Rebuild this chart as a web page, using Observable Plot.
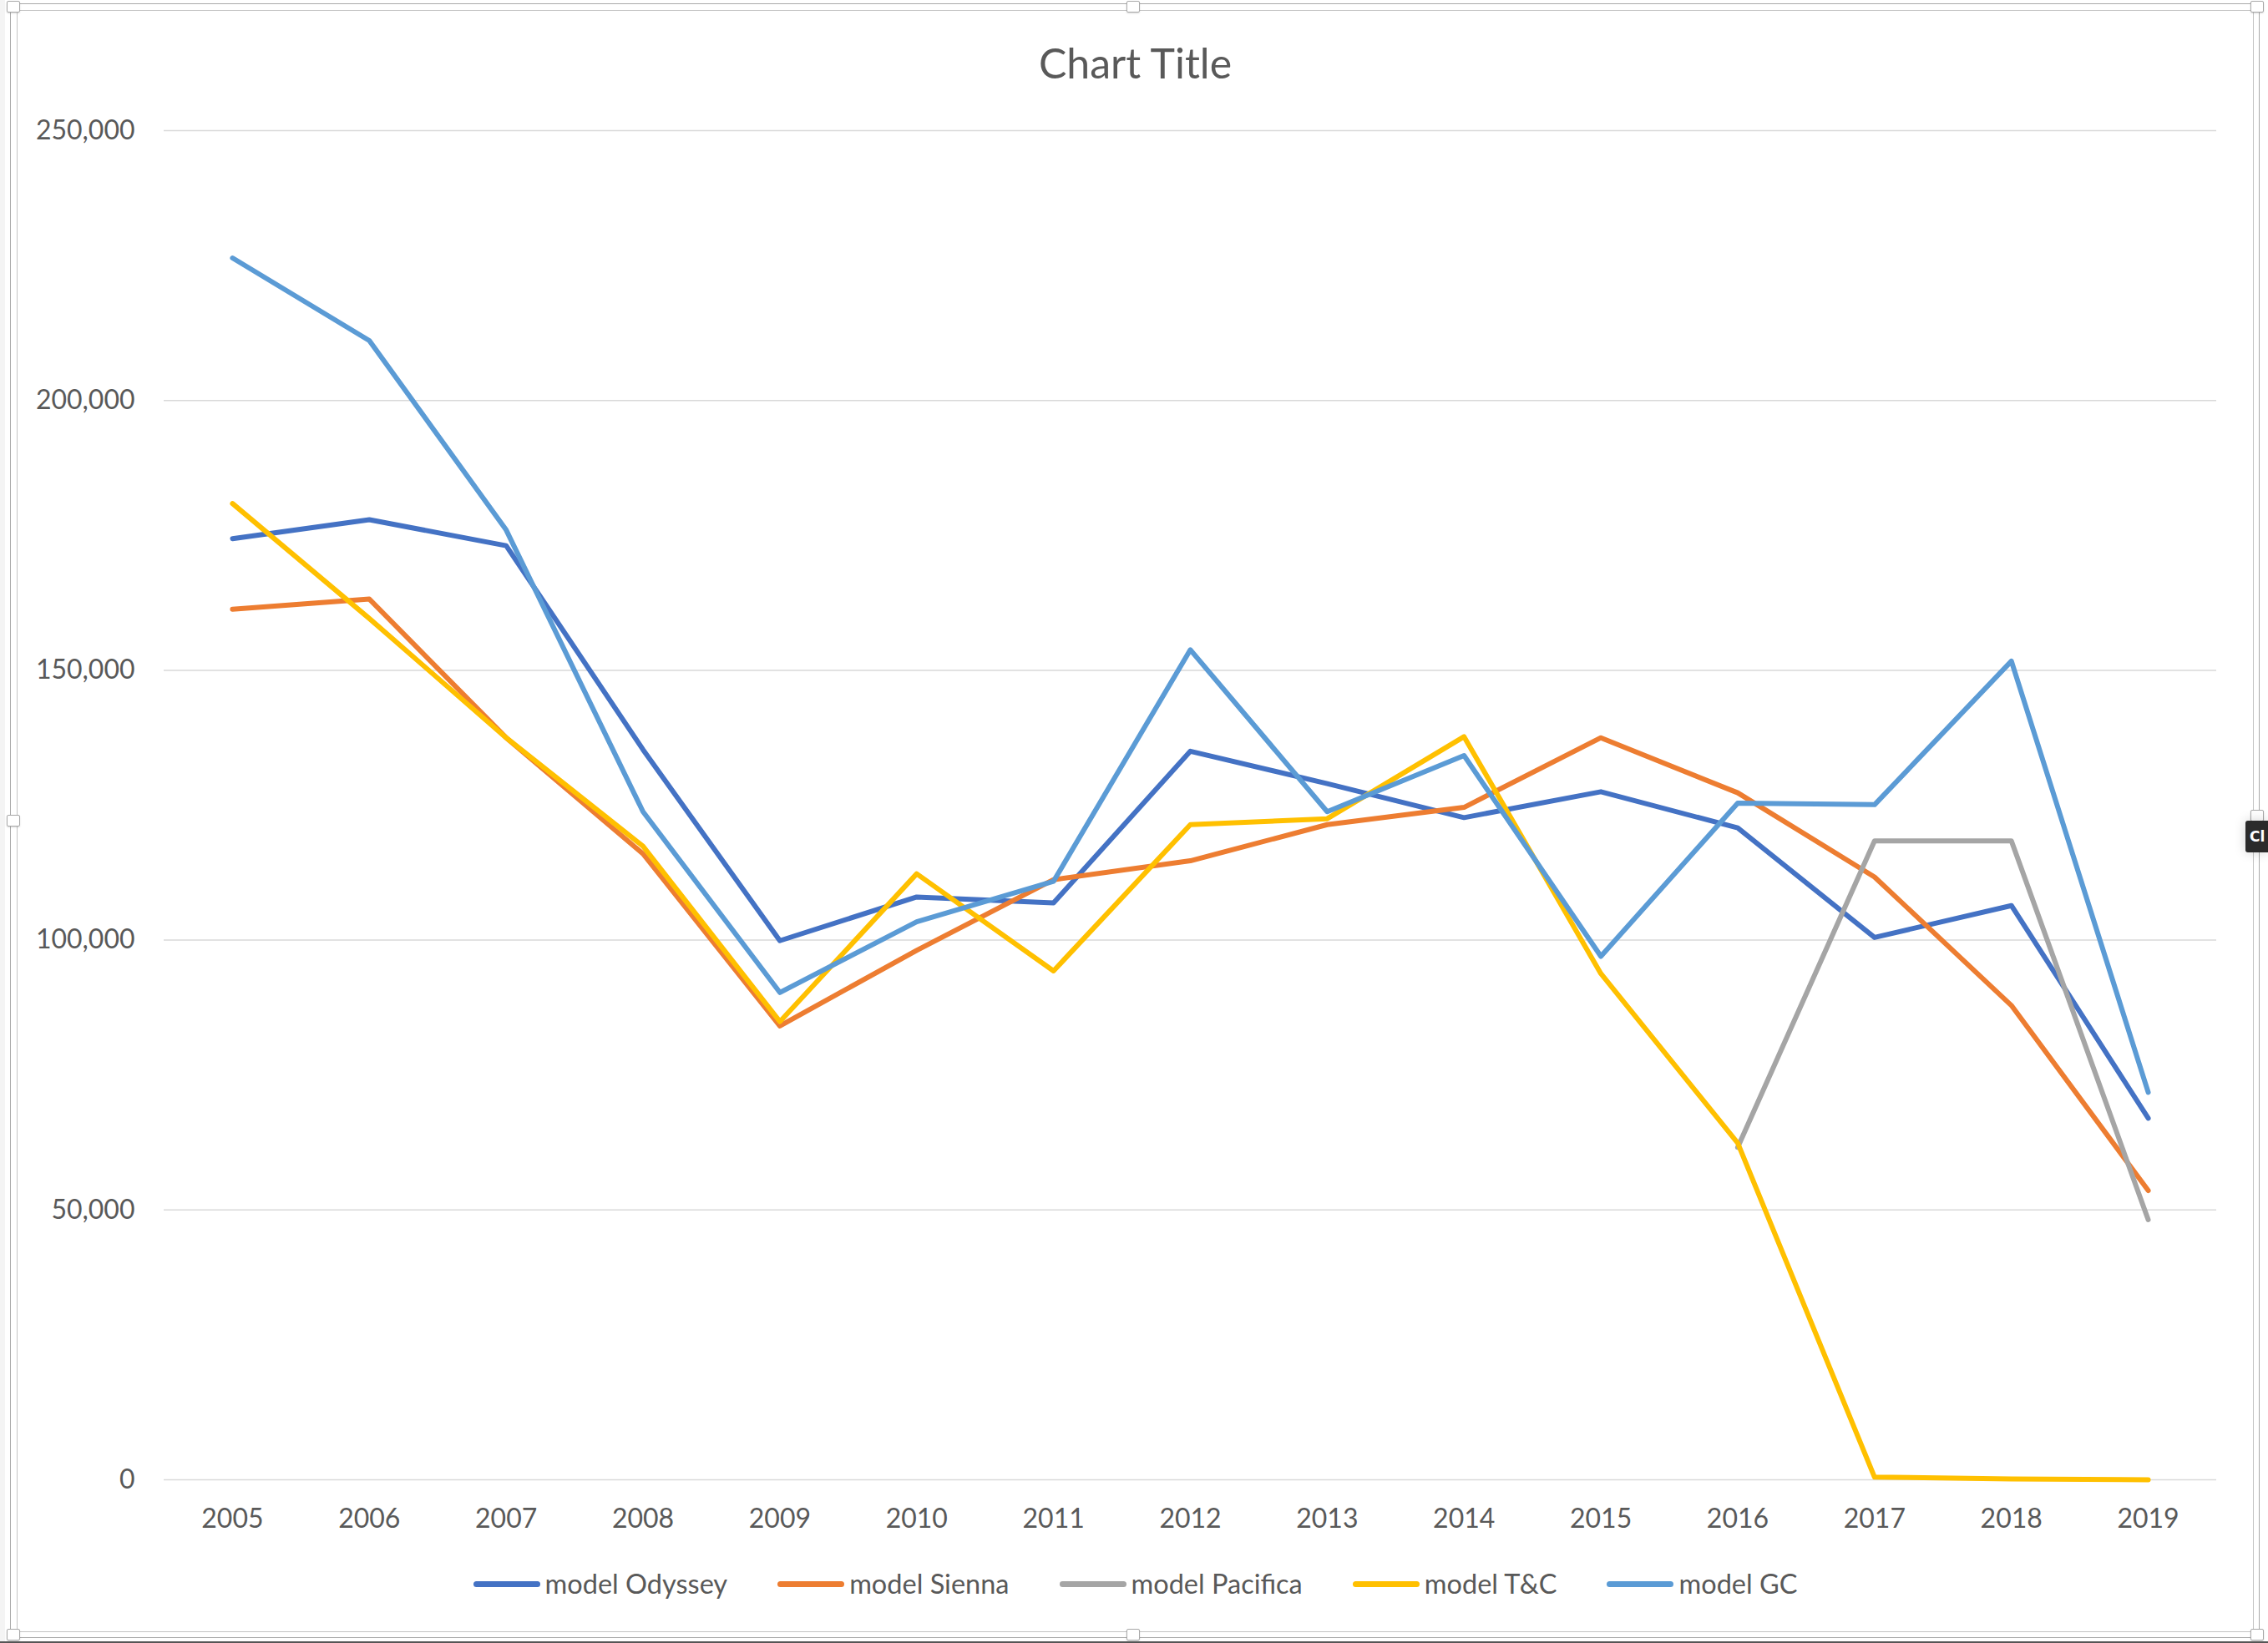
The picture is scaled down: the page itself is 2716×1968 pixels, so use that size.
<!DOCTYPE html>
<html>
<head>
<meta charset="utf-8">
<script src="https://cdn.jsdelivr.net/npm/d3@7"></script>
<script src="https://cdn.jsdelivr.net/npm/@observablehq/plot@0.6"></script>
<style>
  html, body { margin: 0; padding: 0; background: #ffffff; overflow: hidden; }
  #root { position: relative; width: 2716px; height: 1968px; font-family: Lato, "Open Sans", sans-serif; color: #595959; overflow: hidden; }
  .abs { position: absolute; }
  .frameOuter { position: absolute; left: 12px; top: 4px; width: 2694px; height: 1958px; border: 1.5px solid #a9a9a9; box-sizing: border-box; }
  .frameInner { position: absolute; left: 20px; top: 12px; width: 2679px; height: 1943px; border: 1.5px solid #c4c4c4; box-sizing: border-box; }
  .handle { position: absolute; width: 16px; height: 14px; background: #fff; border: 1.5px solid #a9a9a9; border-radius: 2px; box-sizing: border-box; box-shadow: 0 1px 2px rgba(0,0,0,0.15); }
  #title { position: absolute; left: 12px; width: 2695px; top: 50px; text-align: center; font-size: 50px; line-height: 50px; color: #595959; }
  #legend { position: absolute; left: 12px; width: 2695px; top: 1881px; height: 32px; display: flex; justify-content: center; align-items: center; font-size: 32.5px; line-height: 32px; color: #595959; }
  .item { display: flex; align-items: center; margin: 0 30px; }
  .sw { display: inline-block; width: 80px; height: 7px; border-radius: 3.5px; margin-right: 6px; }
  #chart { position: absolute; left: 0; top: 120px; }
  #tip { position: absolute; left: 2689px; top: 983px; width: 27px; height: 38px; background: #2b2b2b; border-radius: 3px 0 0 3px; color: #fff; font-family: "DejaVu Sans", sans-serif; font-weight: bold; font-size: 17px; line-height: 38px; padding-left: 5px; box-sizing: border-box; white-space: nowrap; box-shadow: 0 0 14px rgba(0,0,0,0.18); }
</style>
</head>
<body>
<div id="root">
  <div class="abs" style="left:0;top:0;width:6px;height:1968px;background:#f4f4f4"></div>
  <div class="frameOuter"></div>
  <div class="frameInner"></div>
  <div class="abs" style="left:0;top:1966px;width:2716px;height:2px;background:#555"></div>
  <div id="title">Chart Title</div>
  <div id="chart"></div>
  <div id="legend"></div>
  <div class="handle" style="left:8px;top:1px"></div>
  <div class="handle" style="left:1349px;top:1px"></div>
  <div class="handle" style="left:2695px;top:1px"></div>
  <div class="handle" style="left:8px;top:976px"></div>
  <div class="handle" style="left:2695px;top:970px"></div>
  <div class="handle" style="left:1349px;top:1951px"></div>
  <div class="handle" style="left:8px;top:1951px"></div>
  <div class="handle" style="left:2695px;top:1951px"></div>
  <div id="tip">Cl</div>
</div>
<script>
const years = ["2005","2006","2007","2008","2009","2010","2011","2012","2013","2014","2015","2016","2017","2018","2019"];
const seriesNames = ["model Odyssey", "model Sienna", "model Pacifica", "model T&C", "model GC"];
const seriesColors = ["#4472C4", "#ED7D31", "#A5A5A5", "#FFC000", "#5B9BD5"];

const odyssey  = [174400, 177900, 173100, 135300, 99900, 108000, 106900, 135000, 129000, 122700, 127500, 120800, 100500, 106400, 67000];
const sienna   = [161300, 163200, 137500, 116000, 84100, 98100, 111200, 114700, 121400, 124600, 137500, 127300, 111700, 87900, 53600];
const pacifica = [null, null, null, null, null, null, null, null, null, null, null, 61600, 118400, 118400, 48200];
const tc       = [180900, 159600, 137500, 117400, 84900, 112300, 94300, 121400, 122500, 137700, 93800, 62400, 500, 150, 0];
const gc       = [226400, 211100, 176000, 123800, 90300, 103400, 110900, 153800, 123800, 134200, 97000, 125400, 125100, 151700, 71800];

const yTicks = [0, 50000, 100000, 150000, 200000, 250000];

const allSeries = [odyssey, sienna, pacifica, tc, gc];

const marks = [
  Plot.gridY(yTicks, {stroke: "#d9d9d9", strokeOpacity: 1, strokeWidth: 1.5}),
  Plot.axisY(yTicks, {tickSize: 0, tickPadding: 35, tickFormat: d3.format(","), label: null}),
  Plot.axisX({tickSize: 0, tickPadding: 35, label: null})
];
allSeries.forEach((vals, i) => {
  const data = years.map((y, j) => ({year: y, value: vals[j]})).filter(d => d.value !== null);
  marks.push(Plot.line(data, {x: "year", y: "value", stroke: seriesColors[i], strokeWidth: 6, strokeLinecap: "round", strokeLinejoin: "round"}));
});

const chart = Plot.plot({
  width: 2716,
  height: 1732,
  marginLeft: 196,
  marginRight: 62,
  marginTop: 36,
  marginBottom: 80,
  style: {fontFamily: "Lato, 'Open Sans', sans-serif", fontSize: "32px", color: "#595959", background: "transparent", overflow: "visible"},
  x: {type: "point", domain: years, padding: 0.5, round: false},
  y: {domain: [0, 250000]},
  marks
});
document.getElementById("chart").appendChild(chart);

const legend = document.getElementById("legend");
seriesNames.forEach((name, i) => {
  const item = document.createElement("div");
  item.className = "item";
  const sw = document.createElement("span");
  sw.className = "sw";
  sw.style.background = seriesColors[i];
  const label = document.createElement("span");
  label.textContent = name;
  item.appendChild(sw);
  item.appendChild(label);
  legend.appendChild(item);
});
</script>
</body>
</html>
